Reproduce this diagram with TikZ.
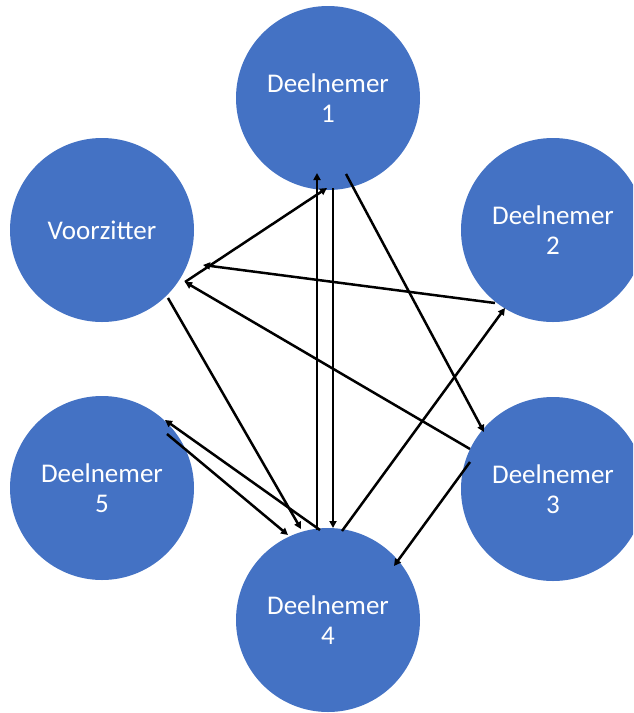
\documentclass[tikz,border=0pt]{standalone}
\usepackage{fontspec}
\setmainfont{Carlito}
\usetikzlibrary{arrows.meta,calc}
\definecolor{officeblue}{HTML}{4472C4}
\tikzset{
  member/.style={circle, fill=officeblue, draw=none, minimum size=184pt, inner sep=0pt,
    text=white, align=center, font=\fontsize{27}{30}\selectfont},
  link/.style={line width=2.5pt, -{Triangle[length=7pt,width=7pt]}, black}
}
\begin{document}
\begin{tikzpicture}[x=1pt,y=-1pt]
  \clip (0,0) rectangle (633,713);
  \fill[white] (0,0) rectangle (633,713);

  % participants arranged around the chair
  \node[member] (d1) at (328,98)  {Deelnemer\\1};
  \node[member] (vz) at (102,230) {Voorzitter};
  \node[member] (d2) at (553,230) {Deelnemer\\2};
  \node[member] (d5) at (102,488) {Deelnemer\\5};
  \node[member] (d3) at (553,489) {Deelnemer\\3};
  \node[member] (d4) at (328,620) {Deelnemer\\4};

  % message flow between participants
  \draw[link] ($(vz.center)+(83,52)$)  -- ($(d1.center)+(-1,90)$);
  \draw[link] ($(d2.center)+(-58,73)$) -- ($(vz.center)+(101,35)$);
  \draw[link] ($(d3.center)+(-83,-40)$) -- ($(vz.center)+(83,52)$);
  \draw[link] ($(vz.center)+(66,68)$)  -- ($(d4.center)+(-27,-91)$);
  \draw[link] ($(d5.center)+(65,-54)$) -- ($(d4.center)+(-40,-85)$);
  \draw[link] ($(d4.center)+(-8,-90)$) -- ($(d5.center)+(63,-68)$);
  \draw[link] ($(d4.center)+(-11,-90)$) -- ($(d1.center)+(-11,75)$);
  \draw[link] ($(d1.center)+(5,90)$)   -- ($(d4.center)+(5,-92)$);
  \draw[link] ($(d1.center)+(18,76)$)  -- ($(d3.center)+(-69,-57)$);
  \draw[link] ($(d4.center)+(14,-89)$) -- ($(d2.center)+(-48,78)$);
  \draw[link] ($(d3.center)+(-83,-27)$) -- ($(d4.center)+(66,-54)$);
\end{tikzpicture}
\end{document}
